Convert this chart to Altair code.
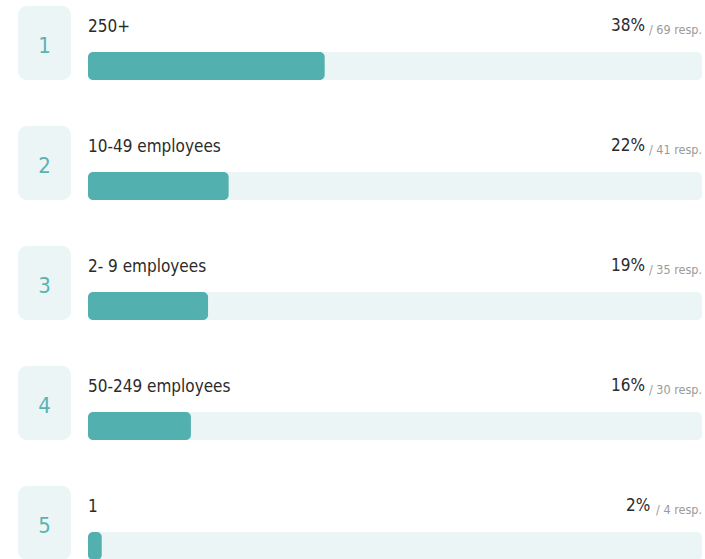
import altair as alt
import pandas as pd

ranks = [1, 2, 3, 4, 5]
labels = ["250+", "10-49 employees", "2- 9 employees", "50-249 employees", "1"]
pcts = ["38%", "22%", "19%", "16%", "2%"]
resp = [69, 41, 35, 30, 4]

total = sum(resp)
df = pd.DataFrame({
    "rank": ranks,
    "label": labels,
    "pct": pcts,
    "resp": resp,
    "share": [r / total for r in resp],
    "resp_label": [f"/ {r} resp." for r in resp],
})

FONT = "'DejaVu Sans Condensed', 'Liberation Sans Narrow', Lato, sans-serif"
TEAL = "#52b0ae"
LIGHT = "#ebf5f6"

yscale = alt.Scale(domain=[1, 5], range=[6, 486])
xscale = alt.Scale(domain=[0, 1], range=[88, 702])

base = alt.Chart(df)
Y = alt.Y("rank:Q", scale=yscale, axis=None)
Y2 = alt.Y2("rank")

box = base.mark_rect(color=LIGHT, cornerRadius=9, yOffset=0, y2Offset=74).encode(
    x=alt.value(18), x2=alt.value(71), y=Y, y2=Y2)

track = base.mark_rect(color=LIGHT, cornerRadius=5, yOffset=46, y2Offset=74).encode(
    x=alt.value(88), x2=alt.value(702), y=Y, y2=Y2)

fill = base.mark_rect(color=TEAL, cornerRadius=5, yOffset=46, y2Offset=74).encode(
    x=alt.X("share:Q", scale=xscale, axis=None), x2=alt.datum(0), y=Y, y2=Y2)

num = base.mark_text(font=FONT, fontSize=22, color="#5ab3b0", align="center",
                     baseline="middle", yOffset=40, fontWeight=300).encode(
    x=alt.value(44.5), y=Y, text="rank:Q")

lab = base.mark_text(font=FONT, fontSize=17, color="#2b2b2b", align="left",
                     baseline="alphabetic", yOffset=26).encode(
    x=alt.value(88), y=Y, text="label:N")

respt = base.mark_text(font=FONT, fontSize=12.5, color="#9a9a9a", align="right",
                       baseline="alphabetic", yOffset=28).encode(
    x=alt.value(702), y=Y, text="resp_label:N")

pctt = base.transform_calculate(
    px="702 - length(datum.resp_label) * 5.2 - 5"
).mark_text(font=FONT, fontSize=17, color="#2b2b2b", align="right",
            baseline="alphabetic", yOffset=25).encode(
    x=alt.X("px:Q", scale=alt.Scale(domain=[0, 705], range=[0, 705]), axis=None),
    y=Y, text="pct:N")

chart = alt.layer(box, track, fill, num, lab, respt, pctt).resolve_scale(
    x="independent"
).properties(
    width=705, height=559, padding=0, background="white",
    autosize=alt.AutoSizeParams(type="none")
).configure_view(stroke=None)

chart.save("out.html", embed_options={"renderer": "svg", "actions": False})
